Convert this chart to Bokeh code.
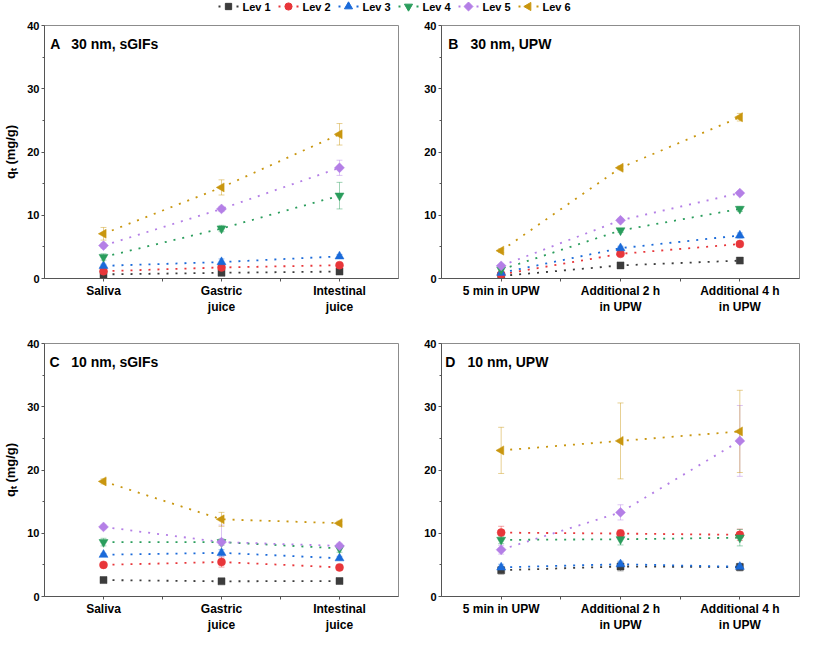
import math
from bokeh.plotting import figure
from bokeh.layouts import column, row
from bokeh.models import Range1d, FixedTicker, Label
from bokeh.core.properties import value
from bokeh.embed import file_html
from bokeh.resources import INLINE

# ---------------- data ----------------
levels = ["Lev 1", "Lev 2", "Lev 3", "Lev 4", "Lev 5", "Lev 6"]
positions = [1, 2, 3]
cats_gi = ["Saliva", "Gastric\njuice", "Intestinal\njuice"]
cats_upw = ["5 min in UPW", "Additional 2 h\nin UPW", "Additional 4 h\nin UPW"]
y_ticks = [0, 10, 20, 30, 40]
y_minor = [5, 15, 25, 35]
y_title = "q\u209c (mg/g)"

# Panel A: 30 nm, sGIFs
A_mean = {"Lev 1": [0.65, 0.9, 1.1], "Lev 2": [1.15, 1.75, 2.1], "Lev 3": [2.0, 2.6, 3.5],
          "Lev 4": [3.4, 7.9, 13.1], "Lev 5": [5.2, 11.0, 17.5], "Lev 6": [7.07, 14.4, 22.8]}
A_err = {"Lev 1": [0.2, 0.15, 0.2], "Lev 2": [0.2, 0.25, 0.2], "Lev 3": [0.25, 0.5, 0.3],
         "Lev 4": [0.5, 0.5, 2.1], "Lev 5": [0.4, 0.4, 1.2], "Lev 6": [1.0, 1.2, 1.7]}
# Panel B: 30 nm, UPW
B_mean = {"Lev 1": [0.4, 2.07, 2.83], "Lev 2": [0.65, 3.9, 5.45], "Lev 3": [0.9, 4.8, 6.8],
          "Lev 4": [1.4, 7.6, 11.0], "Lev 5": [2.0, 9.2, 13.5], "Lev 6": [4.4, 17.5, 25.5]}
B_err = {"Lev 1": [0.1, 0.15, 0.2], "Lev 2": [0.1, 0.3, 0.3], "Lev 3": [0.1, 0.3, 0.4],
         "Lev 4": [0.2, 0.3, 0.4], "Lev 5": [0.2, 0.3, 0.3], "Lev 6": [0.3, 0.3, 0.6]}
# Panel C: 10 nm, sGIFs
C_mean = {"Lev 1": [2.6, 2.4, 2.45], "Lev 2": [5.0, 5.45, 4.6], "Lev 3": [6.6, 6.9, 6.05],
          "Lev 4": [8.6, 8.6, 7.6], "Lev 5": [11.0, 8.6, 8.0], "Lev 6": [18.2, 12.2, 11.6]}
C_err = {"Lev 1": [0.15, 0.15, 0.15], "Lev 2": [0.2, 0.8, 0.3], "Lev 3": [0.2, 0.5, 0.3],
         "Lev 4": [0.6, 0.5, 0.6], "Lev 5": [0.3, 2.7, 0.4], "Lev 6": [0.4, 1.1, 0.3]}
# Panel D: 10 nm, UPW
D_mean = {"Lev 1": [4.15, 4.75, 4.65], "Lev 2": [10.1, 9.95, 9.75], "Lev 3": [4.6, 5.1, 4.7],
          "Lev 4": [8.95, 9.05, 9.3], "Lev 5": [7.4, 13.3, 24.6], "Lev 6": [23.1, 24.6, 26.1]}
D_err = {"Lev 1": [0.6, 0.7, 0.6], "Lev 2": [1.0, 0.6, 0.9], "Lev 3": [0.5, 0.5, 0.5],
         "Lev 4": [0.6, 0.9, 1.3], "Lev 5": [0.7, 1.2, 5.6], "Lev 6": [3.65, 6.0, 6.5]}

# ---------------- style ----------------
FONT = "Liberation Sans"
colors = {"Lev 1": "#3c3c3c", "Lev 2": "#e8363a", "Lev 3": "#1a6ad9",
          "Lev 4": "#2a9d5c", "Lev 5": "#b47fe6", "Lev 6": "#c9960f"}
markers = {"Lev 1": ("square", 0.0, 7), "Lev 2": ("circle", 0.0, 8), "Lev 3": ("triangle", 0.0, 9),
           "Lev 4": ("inverted_triangle", 0.0, 9), "Lev 5": ("square", math.pi / 4, 7),
           "Lev 6": ("triangle", math.pi / 2, 9)}
DASH = "2 7"
LW = 1.8

LEG_H = 12
LEG_X0 = 218      # legend left edge (px)
LEG_STEP = 60     # px per legend item
ROW1 = dict(height=307, bt=13, bb=41)
ROW2 = dict(height=319, bt=24, bb=42)
A_GEOM = dict(width=402, bl=40, br=4)
B_GEOM = dict(width=399, bl=39, br=2)


def make_panel(geom, rgeom, cats, means, errs, letter, title, letter_dx, title_dx, ylabel):
    width, bl, br = geom["width"], geom["bl"], geom["br"]
    height, bt, bb = rgeom["height"], rgeom["bt"], rgeom["bb"]
    fw = width - bl - br
    fh = height - bt - bb
    p = figure(width=width, height=height, x_range=Range1d(0.5, 3.5), y_range=Range1d(0, 40),
               output_backend="svg", toolbar_location=None,
               min_border_left=bl, min_border_right=br, min_border_top=bt, min_border_bottom=bb)
    p.grid.visible = False
    p.outline_line_color = "#8c8c8c"
    p.outline_line_width = 1

    xa = p.xaxis[0]
    xa.ticker = FixedTicker(ticks=[1, 1.5, 2, 2.5, 3], minor_ticks=[])
    xa.major_label_overrides = {1: cats[0], 1.5: "", 2: cats[1], 2.5: "", 3: cats[2]}
    xa.major_tick_out = 3
    xa.major_tick_in = 0
    xa.minor_tick_out = 0
    xa.minor_tick_in = 0
    xa.major_label_standoff = 2
    xa.major_label_text_font = FONT
    xa.major_label_text_font_style = "bold"
    xa.major_label_text_font_size = "12px"
    xa.major_label_text_color = "black"
    xa.axis_line_color = "#555555"
    xa.major_tick_line_color = "#555555"

    ya = p.yaxis[0]
    ya.ticker = FixedTicker(ticks=y_ticks, minor_ticks=y_minor)
    ya.major_tick_out = 3
    ya.major_tick_in = 0
    ya.minor_tick_out = 2
    ya.minor_tick_in = 0
    ya.major_label_standoff = 2
    ya.major_label_text_font = FONT
    ya.major_label_text_font_style = "bold"
    ya.major_label_text_font_size = "11px"
    ya.major_label_text_color = "black"
    ya.axis_line_color = "#555555"
    ya.major_tick_line_color = "#555555"
    ya.minor_tick_line_color = "#555555"
    if ylabel:
        ya.axis_label = y_title
        ya.axis_label_standoff = 6
        ya.axis_label_text_font = FONT
        ya.axis_label_text_font_style = "bold"
        ya.axis_label_text_font_size = "13px"
        ya.axis_label_text_color = "black"

    capw = 3.0 * 3.0 / fw
    for lev in levels:
        c = colors[lev]
        m = means[lev]
        e = errs[lev]
        lo = [a - b for a, b in zip(m, e)]
        hi = [a + b for a, b in zip(m, e)]
        left = [x - capw for x in positions]
        right = [x + capw for x in positions]
        p.segment(x0=positions, y0=lo, x1=positions, y1=hi, line_color=c, line_alpha=0.45, line_width=1)
        p.segment(x0=left, y0=hi, x1=right, y1=hi, line_color=c, line_alpha=0.45, line_width=1)
        p.segment(x0=left, y0=lo, x1=right, y1=lo, line_color=c, line_alpha=0.45, line_width=1)
    for lev in levels:
        p.line(x=positions, y=means[lev], line_color=colors[lev], line_dash=DASH, line_width=LW)
    for lev in levels:
        c = colors[lev]
        mk, ang, sz = markers[lev]
        p.scatter(x=positions, y=means[lev], marker=mk, angle=ang, size=sz,
                  fill_color=c, line_color=c, line_width=0.5)

    ybase = 40 - 18 * 40.0 / fh
    for txt, dx in ((letter, letter_dx), (title, title_dx)):
        p.add_layout(Label(x=0.5 + dx * 3.0 / fw, y=ybase, text=txt, text_font=FONT,
                           text_font_style="bold", text_font_size="14px", text_color="black",
                           text_baseline="alphabetic", text_align="left"))
    return p


# ---------------- legend strip (drawn by hand so marker rotation is kept) ----------------
LEG_W = A_GEOM["width"] + B_GEOM["width"]
lf = figure(width=LEG_W, height=LEG_H,
            x_range=Range1d(0, LEG_W), y_range=Range1d(0, LEG_H),
            output_backend="svg", toolbar_location=None,
            min_border_left=0, min_border_right=0, min_border_top=0, min_border_bottom=0,
            outline_line_color=None, x_axis_location=None, y_axis_location=None)
lf.grid.visible = False
ymid = LEG_H / 2.0
for i, lev in enumerate(levels):
    c = colors[lev]
    mk, ang, sz = markers[lev]
    x0 = LEG_X0 + i * LEG_STEP
    lf.line(x=[x0, x0 + 20], y=[ymid, ymid], line_color=c, line_dash=DASH, line_width=LW)
    lf.scatter(x=[x0 + 10], y=[ymid], marker=mk, angle=ang, size=sz * 0.9,
               fill_color=c, line_color=c)
    lf.text(x=[x0 + 24], y=[ymid], text=[lev], text_font=value(FONT), text_font_style="bold",
            text_font_size="11px", text_color="black", text_baseline="middle", text_align="left")

pA = make_panel(A_GEOM, ROW1, cats_gi, A_mean, A_err, "A", "30 nm, sGIFs", 5.7, 27, True)
pB = make_panel(B_GEOM, ROW1, cats_upw, B_mean, B_err, "B", "30 nm, UPW", 6.7, 29, False)
pC = make_panel(A_GEOM, ROW2, cats_gi, C_mean, C_err, "C", "10 nm, sGIFs", 5.0, 27, True)
pD = make_panel(B_GEOM, ROW2, cats_upw, D_mean, D_err, "D", "10 nm, UPW", 3.7, 26, False)

layout = column(lf, row(pA, pB), row(pC, pD))
open("out.html", "w").write(file_html(layout, INLINE))
